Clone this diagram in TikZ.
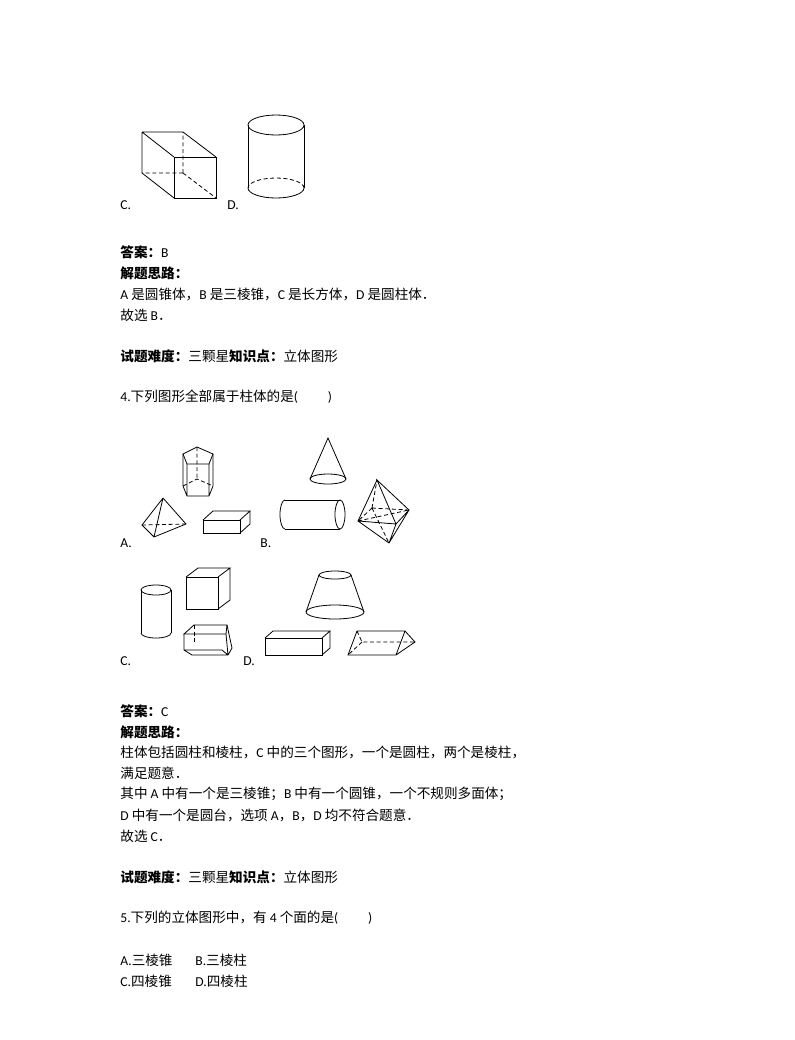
\documentclass[tikz,border=0pt]{standalone}
\usepackage{fontspec}
\setmainfont{Carlito}
\newfontfamily\cj{Noto Sans CJK SC}
\begin{document}
\begin{tikzpicture}[x=0.75pt,y=-0.75pt,line width=0.6pt,
  t/.style={anchor=west,inner sep=0pt,font=\fontsize{10.2pt}{12pt}\selectfont},
  hid/.style={dashed,dash pattern=on 3pt off 2pt}]
\useasboundingbox (0,0) rectangle (794,1040);
% cuboid
\draw (142,132)--(183,132)--(216,157) (142,132)--(142,173)--(174,198) (142,132)--(174,157);
\draw (174,157) rectangle (216,198);
\draw[hid] (183,173)--(142,173) (183,173)--(183,132) (183,173)--(216,198);
% cylinder
\draw (276,125) ellipse (28 and 10);
\draw (248,125)--(248,188) (304,125)--(304,188);
\draw (248,188) arc (180:0:28 and 10);
\draw[hid] (304,188) arc (0:-180:28 and 10);
\node[t] (c1) at (120,205) {C.};
\node[t] (d1) at (227,205) {D.};
\node[t] (l1) at (120,252) {\cj\textbf{答案：}\normalfont B};
\node[t] (l2) at (120,273) {\cj\textbf{解题思路：}};
\node[t] (l3) at (120,294) {A {\cj 是圆锥体，}B {\cj 是三棱锥，}C {\cj 是长方体，}D {\cj 是圆柱体．}};
\node[t] (l4) at (120,315) {{\cj 故选} B{\cj ．}};
\node[t] (l5) at (120,356) {\cj\textbf{试题难度：}三颗星\textbf{知识点：}立体图形};
\node[t] (l6) at (120,397) {4.{\cj 下列图形全部属于柱体的是}(\hspace{2.2em})};
% pentagonal prism
\draw (183,454)--(197,447)--(213,454)--(209,464)--(187,464)--cycle;
\draw (183,454)--(183,486)--(187,496)--(209,496)--(213,486)--(213,454) (187,464)--(187,496) (209,464)--(209,496);
\draw[hid] (197,447)--(197,479) (183,486)--(197,479)--(213,486);
% triangular pyramid
\draw (163,498)--(142,525)--(154,537)--(186,524)--(163,498) (163,498)--(154,537);
\draw[hid] (142,525)--(186,524);
% box
\draw (203,520) rectangle (240,533);
\draw (203,520)--(213,511)--(250,511)--(240,520) (250,511)--(250,524)--(240,533);
% cone
\draw (328,479) ellipse (18 and 5);
\draw (310,479)--(328,438)--(346,479);
% horizontal cylinder
\draw (340,514.5) ellipse (5 and 14.5);
\draw (285,500)--(340,500) (285,529)--(340,529);
\draw (285,500) arc (270:90:5 and 14.5);
% polyhedron
\draw (377,480)--(358,521)--(396,524)--(409,510)--(377,480)--(396,524) (358,521)--(389,543)--(409,510) (396,524)--(389,543);
\draw[hid] (372,508)--(377,480) (372,508)--(358,521) (372,508)--(409,510) (372,508)--(389,543) (358,521)--(409,510);
\node[t] (a2) at (120,543) {A.};
\node[t] (b2) at (260,543) {B.};
% cylinder C
\draw (156,590) ellipse (15 and 5);
\draw (141,590)--(141,633) (171,590)--(171,633);
\draw (141,633) arc (180:0:15 and 5);
% cube
\draw (186,577) rectangle (218,609);
\draw (186,577)--(198,568)--(230,568)--(218,577) (230,568)--(230,600)--(218,609);
% trapezoid prism
\draw (184,634)--(194,625)--(227,625)--(226,634)--cycle;
\draw (184,634)--(184,650)--(192,655)--(228,655)--(226,634) (227,625)--(232,648)--(228,655) (184,650)--(222,650)--(228,655);
\draw[hid] (194,625)--(194,645);
\node[t] (c3) at (120,661) {C.};
\node[t] (d3) at (243,661) {D.};
% frustum
\draw (335,575) ellipse (16 and 4);
\draw (335,612) ellipse (29 and 7);
\draw (319,575)--(306,612) (351,575)--(364,612);
% box D
\draw (265,638) rectangle (322,655);
\draw (265,638)--(273,631)--(330,631)--(322,638) (330,631)--(330,648)--(322,655);
% triangular prism
\draw (357,631)--(405,631)--(415,642)--(396,655)--(348,655)--(357,631) (405,631)--(396,655);
\draw[hid] (357,631)--(362,642)--(415,642) (362,642)--(348,655);
\node[t] (m1) at (120,711) {{\cj\textbf{答案：}}C};
\node[t] (m2) at (120,732) {\cj\textbf{解题思路：}};
\node[t] (m3) at (120,752) {{\cj 柱体包括圆柱和棱柱，}C {\cj 中的三个图形，一个是圆柱，两个是棱柱，}};
\node[t] (m4) at (120,773) {\cj 满足题意．};
\node[t] (m5) at (120,794) {{\cj 其中} A {\cj 中有一个是三棱锥；}B {\cj 中有一个圆锥，一个不规则多面体；}};
\node[t] (m6) at (120,815) {D {\cj 中有一个是圆台，选项} A{\cj ，}B{\cj ，}D {\cj 均不符合题意．}};
\node[t] (m7) at (120,836) {{\cj 故选} C{\cj ．}};
\node[t] (m8) at (120,877) {\cj\textbf{试题难度：}三颗星\textbf{知识点：}立体图形};
\node[t] (m9) at (120,918) {5.{\cj 下列的立体图形中，有} 4 {\cj 个面的是}(\hspace{2.2em})};
\node[t] (o1) at (120,960) {A.{\cj 三棱锥}};
\node[t] (o2) at (195,960) {B.{\cj 三棱柱}};
\node[t] (o3) at (120,981) {C.{\cj 四棱锥}};
\node[t] (o4) at (195,981) {D.{\cj 四棱柱}};
\end{tikzpicture}
\end{document}
